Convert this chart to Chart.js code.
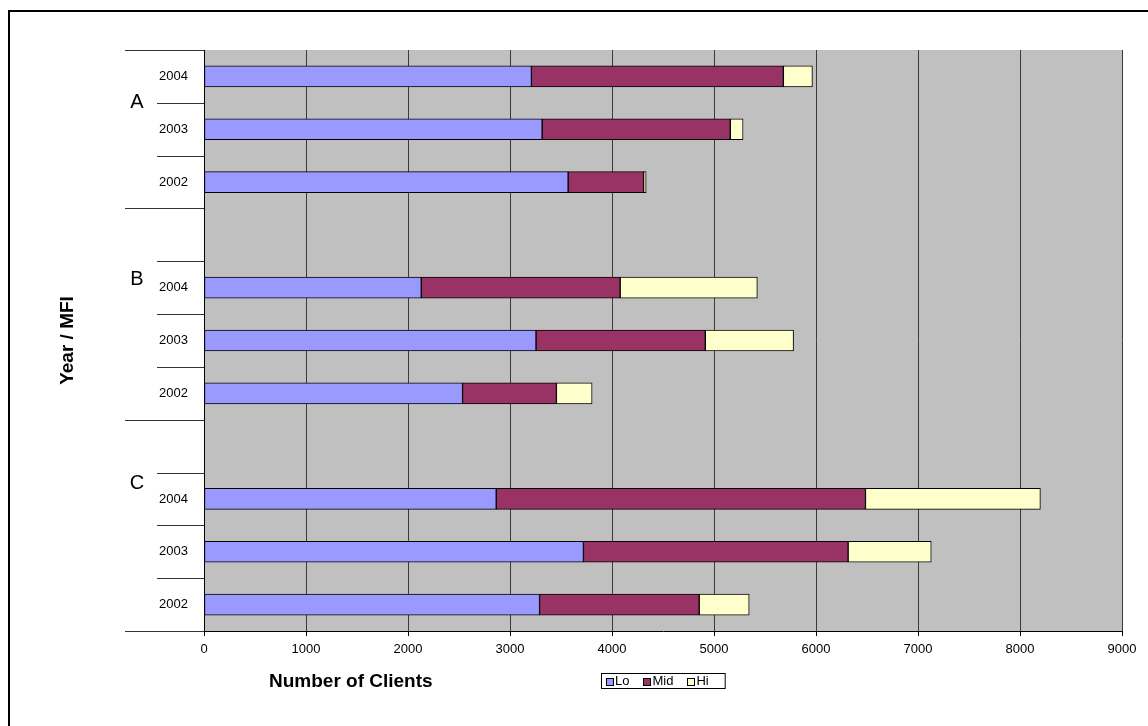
<!DOCTYPE html>
<html>
<head>
<meta charset="utf-8">
<title>Clients by loan size</title>
<script src="https://cdn.jsdelivr.net/npm/chart.js@4.4.1/dist/chart.umd.min.js"></script>
<style>
  html, body { margin: 0; padding: 0; background: #fff; overflow: hidden; }
  #frame { position: absolute; left: 8px; top: 10px; width: 1200px; height: 800px; border: 2px solid #000; box-sizing: border-box; }
  #chart { position: absolute; left: 0; top: 0; }
</style>
</head>
<body>
<div id="frame"></div>
<canvas id="chart" width="1148" height="726"></canvas>
<script>
// rows top to bottom; blank rows separate the MFI groups
const rowLabels = ['2004', '2003', '2002', '', '2004', '2003', '2002', '', '2004', '2003', '2002'];
const groupNames = ['A', 'B', 'C'];
const groupSizes = [3, 4, 4];

const loClients  = [3210, 3315, 3570, null, 2130, 3255, 2535, null, 2865, 3720, 3290];
const midClients = [2470, 1845, 740, null, 1950, 1660, 920, null, 3620, 2595, 1565];
const hiClients  = [285, 125, 25, null, 1345, 865, 350, null, 1715, 815, 490];

const xMin = 0;
const xMax = 9000;
const xStep = 1000;

const FONT = 'Arial, "Liberation Sans", sans-serif';
Chart.defaults.font.family = FONT;
Chart.defaults.color = '#000';

// grey plot area behind the bars
const plotBackground = {
    id: 'plotBackground',
    beforeDraw: function (chart) {
        const a = chart.chartArea;
        const ctx = chart.ctx;
        ctx.save();
        ctx.fillStyle = '#c0c0c0';
        ctx.fillRect(a.left, a.top, a.right - a.left, a.bottom - a.top);
        ctx.restore();
    }
};

// two-level category axis: year tick lines + MFI group letters
const groupAxis = {
    id: 'groupAxis',
    afterDraw: function (chart) {
        const ctx = chart.ctx;
        const y = chart.scales.y;
        const left = chart.chartArea.left;
        const edges = [0];
        groupSizes.forEach(function (n) { edges.push(edges[edges.length - 1] + n); });

        ctx.save();
        ctx.strokeStyle = '#333';
        ctx.lineWidth = 1;
        for (let i = 0; i <= rowLabels.length; i++) {
            const py = Math.round(y.getPixelForValue(i - 0.5)) + 0.5;
            const x0 = edges.indexOf(i) >= 0 ? left - 79 : left - 47;
            ctx.beginPath();
            ctx.moveTo(x0, py);
            ctx.lineTo(left, py);
            ctx.stroke();
        }

        // letter sits a little below the top edge of each group
        const letterRows = [0.5, 3.84, 7.7];
        ctx.fillStyle = '#000';
        ctx.font = '20px ' + FONT;
        ctx.textAlign = 'center';
        ctx.textBaseline = 'middle';
        groupNames.forEach(function (g, k) {
            ctx.fillText(g, left - 67, y.getPixelForValue(letterRows[k]));
        });
        ctx.restore();
    }
};

// axis titles and the boxed legend
const titlesAndLegend = {
    id: 'titlesAndLegend',
    afterDraw: function (chart) {
        const ctx = chart.ctx;
        const a = chart.chartArea;
        ctx.save();
        ctx.fillStyle = '#000';
        ctx.font = 'bold 19px ' + FONT;
        ctx.textAlign = 'left';
        ctx.textBaseline = 'alphabetic';
        ctx.fillText('Number of Clients', a.left + 65, a.bottom + 56);

        ctx.save();
        ctx.translate(68, (a.top + a.bottom) / 2);
        ctx.rotate(-Math.PI / 2);
        ctx.textAlign = 'center';
        ctx.textBaseline = 'middle';
        ctx.fillText('Year / MFI', 0, 0);
        ctx.restore();

        const sets = chart.data.datasets;
        ctx.font = '13px ' + FONT;
        let w = 5 + 16;
        sets.forEach(function (ds, i) {
            w += 9 + ctx.measureText(ds.label).width + (i < sets.length - 1 ? 14 : 0);
        });
        const bx = Math.round((a.left + a.right) / 2 - w / 2) + 0.5;
        const by = Math.round(a.bottom + 42) + 0.5;
        const bh = 15;
        ctx.strokeStyle = '#000';
        ctx.lineWidth = 1;
        ctx.strokeRect(bx, by, w, bh);

        let x = bx + 4.5;
        const cy = by + bh / 2;
        ctx.textAlign = 'left';
        ctx.textBaseline = 'middle';
        sets.forEach(function (ds) {
            ctx.fillStyle = ds.backgroundColor;
            ctx.fillRect(Math.round(x) + 0.5, Math.round(cy - 3.5), 7, 7);
            ctx.strokeRect(Math.round(x) + 0.5, Math.round(cy - 3.5) + 0.5, 7, 7);
            ctx.fillStyle = '#000';
            ctx.fillText(ds.label, x + 9, cy + 0.5);
            x += 9 + ctx.measureText(ds.label).width + 14;
        });
        ctx.restore();
    }
};

new Chart(document.getElementById('chart'), {
    type: 'bar',
    data: {
        labels: rowLabels,
        datasets: [
            { label: 'Lo', data: loClients, backgroundColor: '#9999ff' },
            { label: 'Mid', data: midClients, backgroundColor: '#993366' },
            { label: 'Hi', data: hiClients, backgroundColor: '#ffffcc' }
        ]
    },
    options: {
        indexAxis: 'y',
        responsive: false,
        animation: false,
        layout: { padding: { top: 50, right: 26, left: 0, bottom: 0 } },
        datasets: {
            bar: { barThickness: 21, borderColor: '#000', borderWidth: 1, borderSkipped: false }
        },
        plugins: {
            legend: { display: false },
            tooltip: { enabled: false }
        },
        scales: {
            x: {
                stacked: true,
                min: xMin,
                max: xMax,
                ticks: {
                    stepSize: xStep,
                    font: { size: 13 },
                    padding: 6,
                    maxRotation: 0,
                    callback: function (v) { return String(v); }
                },
                grid: { color: '#3a3a3a', tickLength: 5, tickColor: '#000' },
                border: { color: '#000' },
                afterFit: function (s) { s.height = 95; }
            },
            y: {
                stacked: true,
                ticks: { font: { size: 13 }, padding: 8, autoSkip: false },
                grid: { display: false },
                border: { color: '#000' },
                afterFit: function (s) { s.width = 204; }
            }
        }
    },
    plugins: [plotBackground, groupAxis, titlesAndLegend]
});
</script>
</body>
</html>
